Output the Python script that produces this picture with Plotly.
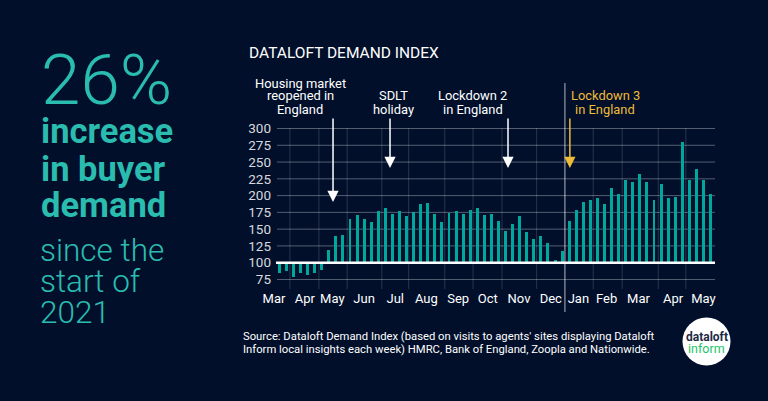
import plotly.graph_objects as go

W, H = 768, 401
BG = "#010f2b"
TEAL = "#00a79d"
TEAL_TXT = "#2bbcb0"
GOLD = "#eebc3a"

demand_index = [85, 88, 79, 84, 81, 85, 89, 119, 140, 142, 165, 171, 165, 160, 177, 181, 173, 177, 170, 176,
                187, 189, 172, 160, 174, 177, 173, 178, 181, 171, 172, 162, 147, 158, 170, 146, 136, 140,
                129, 104, 117, 162, 179, 190, 193, 196, 188, 211, 202, 223, 220, 232, 220, 194, 218, 196,
                198, 280, 224, 240, 224, 203]
week = list(range(len(demand_index)))
y_ticks = [75, 100, 125, 150, 175, 200, 225, 250, 275, 300]
month_labels = ["Mar", "Apr", "May", "Jun", "Jul", "Aug", "Sep", "Oct", "Nov", "Dec", "Jan", "Feb", "Mar", "Apr", "May"]
month_label_pos = [-0.75, 3.6, 7.5, 12.0, 16.4, 20.8, 25.3, 29.5, 33.9, 38.4, 42.3, 46.3, 50.8, 55.7, 60.0]
month_bounds = [1.5, 5.6, 9.6, 14.5, 18.3, 23.4, 27.4, 31.5, 36.4, 44.4, 48.5, 53.6, 57.5]
jan_divider = 40.4
events = [
    (["Housing market", "reopened in", "England"], 7.6, 190.5, "white", 300),
    (["SDLT", "holiday"], 15.66, 241, "white", 393.5),
    (["Lockdown 2", "in England"], 32.35, 241, "white", 472.5),
    (["Lockdown 3", "in England"], 41.1, 241, GOLD, 605),
]

# pixel helpers for layout only
px = lambda v: v / W
py = lambda v: 1 - v / H
X0, DX = 279.3, 7.07
dom_l, dom_r = 262, 730
xr = [(dom_l - X0) / DX, (dom_r - X0) / DX]
Y100, PU = 262.7, 0.671
plot_top, plot_bot = 128.0, 289.0
yr = [100 - (plot_bot - Y100) / PU, 100 + (Y100 - plot_top) / PU]

fig = go.Figure()
fig.add_bar(x=week, y=[v - 100 for v in demand_index], base=100, width=0.42,
            marker=dict(color=TEAL, line_width=0), showlegend=False)

shapes = []
for t in y_ticks:
    shapes.append(dict(type="line", xref="paper", yref="y", layer="below",
                       x0=px(277), x1=px(715), y0=t, y1=t,
                       line=dict(color="rgba(255,255,255,0.33)", width=1)))
for b in month_bounds:
    shapes.append(dict(type="line", xref="x", yref="paper", layer="below",
                       x0=b, x1=b, y0=py(plot_bot), y1=py(plot_top),
                       line=dict(color="rgba(255,255,255,0.16)", width=1)))
shapes.append(dict(type="line", xref="paper", yref="y", x0=px(276), x1=px(715), y0=100, y1=100,
                   line=dict(color="white", width=2.5)))
shapes.append(dict(type="line", xref="x", yref="paper", x0=jan_divider, x1=jan_divider,
                   y0=py(312), y1=py(83), line=dict(color="rgba(255,255,255,0.7)", width=1)))
shapes.append(dict(type="circle", xref="paper", yref="paper", fillcolor="white", line_width=0,
                   x0=px(682.5), x1=px(730.5), y0=py(365.5), y1=py(317.5)))

ann = []
def text(s, x, y, size, color="white", family="Roboto", anchor="left", yanchor="middle", align="left"):
    ann.append(dict(text=s, xref="paper", yref="paper", x=px(x), y=py(y), xanchor=anchor, yanchor=yanchor,
                    align=align, showarrow=False, font=dict(family=family, size=size, color=color)))

for lines, ex, ey, col, lx in events:
    tip_px = Y100 - (ey - 100) * PU
    ann.append(dict(x=ex, y=ey, xref="x", yref="y", ax=0, ay=117 - tip_px,
                    text="", showarrow=True, arrowhead=2, arrowsize=1.5, arrowwidth=1.5, arrowcolor=col))
    for i, line in enumerate(reversed(lines)):
        text(line, lx, 109 - 13 * i, 12.9, col, "Roboto", "center")

text("26%", 38.5, 79, 71, TEAL_TXT, "Roboto Light, Roboto")
for s, y in [("increase", 131.5), ("in buyer", 168.5), ("demand", 204.5)]:
    text("<b>" + s + "</b>", 38.5, y, 34.5, TEAL_TXT)
for s, y in [("since the", 250), ("start of", 281), ("2021", 312)]:
    text(s, 38, y, 31.5, TEAL_TXT, "Roboto Light, Roboto")
text("DATALOFT DEMAND INDEX", 247, 53, 15.5)
text("Source: Dataloft Demand Index (based on visits to agents' sites displaying Dataloft", 241, 336, 11.25)
text("Inform local insights each week) HMRC, Bank of England, Zoopla and Nationwide.", 241, 349, 11.25)
text("<b>dataloft</b>", 706.5, 337, 12, "#1d2a44", "Roboto", "center")
text("inform", 706.5, 348, 12.5, "#1fc46a", "Roboto", "center")

fig.update_layout(
    width=W, height=H, autosize=False, margin=dict(l=0, r=0, t=0, b=0, pad=0),
    paper_bgcolor=BG, plot_bgcolor="rgba(0,0,0,0)", bargap=0, shapes=shapes, annotations=ann,
    xaxis=dict(domain=[px(dom_l), px(dom_r)], range=xr, showgrid=False, zeroline=False, showline=False,
               automargin=False, tickmode="array", tickvals=month_label_pos, ticktext=month_labels, ticks="",
               tickfont=dict(family="Roboto", size=13, color="white"), anchor="y"),
    yaxis=dict(domain=[py(plot_bot), py(plot_top)], range=yr, showgrid=False, zeroline=False, showline=False,
               automargin=False, tickmode="array", tickvals=y_ticks, ticks="", anchor="free", position=px(271),
               tickfont=dict(family="Roboto", size=13.5, color="rgba(255,255,255,0.85)")),
)
fig.write_html("out.html", config={"displayModeBar": False},
               post_script="document.body.style.margin='0';document.body.style.background='%s';" % BG)
